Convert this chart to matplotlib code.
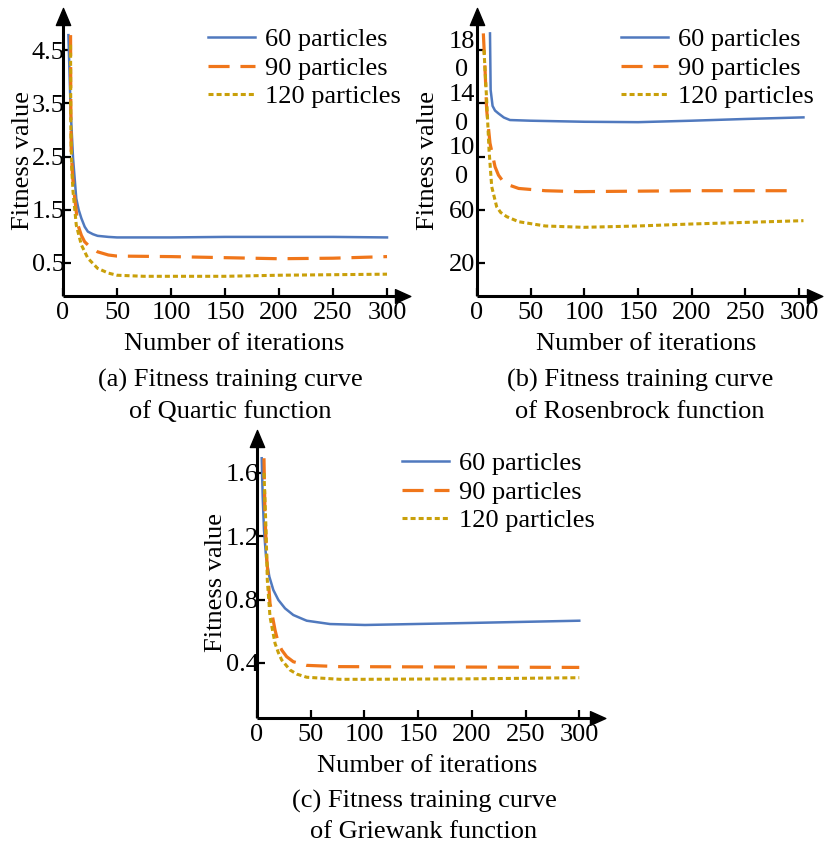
import matplotlib
matplotlib.use('Agg')
import matplotlib.pyplot as plt
from matplotlib.path import Path

plt.rcParams['font.family'] = ['Liberation Serif', 'DejaVu Serif']
plt.rcParams['font.size'] = 19

# ---------------- data ----------------
series_labels = ['60 particles', '90 particles', '120 particles']
iter_ticks = [0, 50, 100, 150, 200, 250, 300]

# (a) Quartic
qa_x60 = [5.0, 7.0, 9.3, 12.3, 14.5, 17.0, 20.1, 23.0, 27.8, 32.0, 42.0, 50, 100, 150, 200, 250, 300]
qa_y60 = [4.78, 3.41, 2.47, 1.71, 1.50, 1.34, 1.18, 1.09, 1.04, 1.01, 0.99, 0.98, 0.98, 0.99, 0.99, 0.99, 0.98]
qa_x90 = [7.0, 7.2, 7.6, 9.0, 10.2, 12.3, 13.9, 17.0, 20.0, 23.0, 32.0, 42.0, 50, 100, 150, 200, 250, 300]
qa_y90 = [4.78, 3.6, 2.6, 2.1, 1.84, 1.46, 1.21, 1.02, 0.90, 0.84, 0.71, 0.65, 0.63, 0.62, 0.60, 0.58, 0.59, 0.62]
qa_x120 = [7.0, 7.2, 8.0, 9.3, 12.3, 17.0, 23.0, 32.0, 42.0, 50, 75, 100, 150, 200, 250, 300]
qa_y120 = [4.6, 3.1, 2.3, 1.84, 1.21, 0.84, 0.59, 0.40, 0.31, 0.27, 0.25, 0.25, 0.25, 0.27, 0.28, 0.29]
qa_yticks = [0.5, 1.5, 2.5, 3.5, 4.5]
qa_yticklabels = ['0.5', '1.5', '2.5', '3.5', '4.5']

# (b) Rosenbrock
rb_x60 = [12.1, 12.7, 14.5, 16.8, 19.9, 25.0, 30.7, 49.7, 100, 150, 200, 250, 304]
rb_y60 = [192.5, 150.0, 138.0, 134.5, 132.4, 129.3, 127.4, 126.9, 126.1, 125.8, 126.9, 128.2, 129.4]
rb_x90 = [5.9, 7.4, 9.0, 12.1, 16.8, 20.0, 24.5, 30.0, 38.8, 63.6, 94.6, 200, 293]
rb_y90 = [192.5, 167.5, 135.0, 110.0, 92.3, 86.0, 81.0, 78.5, 76.0, 74.3, 73.6, 74.3, 74.3]
rb_x120 = [6.5, 9.0, 11.2, 13.7, 18.3, 22.0, 27.7, 38.8, 63.6, 99.4, 150, 200, 250, 304]
rb_y120 = [180.0, 142.4, 104.9, 77.3, 62.3, 58.0, 54.8, 51.0, 47.8, 46.8, 47.8, 49.3, 50.5, 51.8]
rb_yticks = [20, 60, 100, 140, 180]
rb_yticklabels = ['20', '60', '10\n0', '14\n0', '18\n0']

# (c) Griewank
gw_x60 = [4.4, 5.3, 6.5, 8.4, 11.5, 15.2, 19.9, 26.1, 33.8, 43.1, 46.3, 68.0, 100.5, 200, 300]
gw_y60 = [1.693, 1.45, 1.24, 1.071, 0.945, 0.861, 0.798, 0.745, 0.703, 0.676, 0.667, 0.646, 0.640, 0.653, 0.667]
gw_x90 = [6.5, 7.4, 9.0, 12.1, 16.8, 19.9, 23.0, 27.6, 33.8, 46.3, 77.0, 300]
gw_y90 = [1.693, 1.345, 1.07, 0.777, 0.608, 0.524, 0.482, 0.44, 0.408, 0.385, 0.377, 0.372]
gw_x120 = [6.5, 8.4, 9.6, 12.1, 16.8, 19.9, 23.0, 30.7, 37.0, 46.3, 77.0, 100, 200, 300]
gw_y120 = [1.60, 1.24, 0.924, 0.692, 0.524, 0.465, 0.419, 0.356, 0.330, 0.310, 0.297, 0.297, 0.300, 0.307]
gw_yticks = [0.4, 0.8, 1.2, 1.6]
gw_yticklabels = ['0.4', '0.8', '1.2', '1.6']

captions = [('(a) Fitness training curve', 'of Quartic function'),
            ('(b) Fitness training curve', 'of Rosenbrock function'),
            ('(c) Fitness training curve', 'of Griewank function')]
xlabel_text = 'Number of iterations'
ylabel_text = 'Fitness value'

# ---------------- style ----------------
W, H = 825, 846
fig = plt.figure(figsize=(W / 100, H / 100), dpi=100)

c60, c90, c120 = '#5079be', '#f0761a', '#c9a00a'
styles = [dict(color=c60, lw=1.8, linestyle='-'),
          dict(color=c90, lw=2.3, linestyle=(0, (6.6, 3.4))),
          dict(color=c120, lw=2.2, linestyle=(0, (1.64, 1.0)))]

up_arrow = Path([(-0.42, 0), (0.42, 0), (0, 1), (-0.42, 0)],
                [Path.MOVETO, Path.LINETO, Path.LINETO, Path.CLOSEPOLY])
right_arrow = Path([(0, -0.45), (0, 0.45), (1, 0), (0, -0.45)],
                   [Path.MOVETO, Path.LINETO, Path.LINETO, Path.CLOSEPOLY])


def make_axes(l, t, r, b):
    return fig.add_axes([l / W, 1 - b / H, (r - l) / W, (b - t) / H])


def draw_panel(ax, xs, ys, xlim, ylim, yticks, yticklabels, legend_xy,
               xlabel_xy, ylabel_x, ypad=-1):
    for x, y, lab, st in zip(xs, ys, series_labels, styles):
        ax.plot(x, y, label=lab, solid_joinstyle='round', dash_joinstyle='round', **st)
    ax.set_xlim(*xlim)
    ax.set_ylim(*ylim)
    for s in ['top', 'right']:
        ax.spines[s].set_visible(False)
    for s in ['left', 'bottom']:
        ax.spines[s].set_linewidth(2.2)
        ax.spines[s].set_capstyle('butt')
    ax.plot(0, 1, marker=up_arrow, ms=24.5, color='k', transform=ax.transAxes,
            clip_on=False)
    ax.plot(1, 0, marker=right_arrow, ms=22, color='k', transform=ax.transAxes,
            clip_on=False)
    ax.set_xticks(iter_ticks)
    ax.set_xticklabels([str(v) for v in iter_ticks])
    ax.set_yticks(yticks)
    ax.set_yticklabels(yticklabels)
    ax.tick_params(direction='in', length=5.5, width=1.6, labelsize=19)
    ax.tick_params(axis='x', pad=4.3)
    ax.tick_params(axis='y', pad=ypad)
    for lbl in ax.get_yticklabels():
        lbl.set_multialignment('center')
        lbl.set_linespacing(1.4)
    ax.set_xlabel(xlabel_text, fontsize=19, va='baseline')
    ax.xaxis.set_label_coords(*xlabel_xy)
    ax.set_ylabel(ylabel_text, fontsize=19, va='center')
    ax.yaxis.set_label_coords(ylabel_x, 0.5)
    ax.legend(loc='upper left', bbox_to_anchor=(legend_xy[0] / W, 1 - legend_xy[1] / H),
              bbox_transform=fig.transFigure, frameon=False, fontsize=19,
              handlelength=1.78, handletextpad=0.38, labelspacing=0.19,
              borderpad=0, borderaxespad=0)


# panel (a)
axA = make_axes(63, 25, 395, 296)
draw_panel(axA, [qa_x60, qa_x90, qa_x120], [qa_y60, qa_y90, qa_y120],
           (0, 307.4), (-0.12, 4.97), qa_yticks, qa_yticklabels,
           (208, 28), ((234 - 63) / 332, (296 - 350) / 271), -0.121)

# panel (b)
axB = make_axes(477, 25, 807, 296)
draw_panel(axB, [rb_x60, rb_x90, rb_x120], [rb_y60, rb_y90, rb_y120],
           (0, 307.3), (-4.8, 198.8), rb_yticks, rb_yticklabels,
           (621, 28), ((646 - 477) / 330, (296 - 350) / 271), -0.148, ypad=1.5)

# panel (c)
axC = make_axes(257, 447, 590, 718)
draw_panel(axC, [gw_x60, gw_x90, gw_x120], [gw_y60, gw_y90, gw_y120],
           (0, 310), (0.0526, 1.764), gw_yticks, gw_yticklabels,
           (402, 452), ((427 - 257) / 333, (718 - 772) / 271), -0.123)

# captions
cap_pos = [(230, 387, 418), (640, 387, 418), (424, 808, 838)]
for (l1, l2), (cx, y1, y2) in zip(captions, cap_pos):
    fig.text(cx / W, 1 - y1 / H, l1, ha='center', va='baseline', fontsize=19)
    fig.text(cx / W, 1 - y2 / H, l2, ha='center', va='baseline', fontsize=19)

fig.savefig('out.png', dpi=100)
